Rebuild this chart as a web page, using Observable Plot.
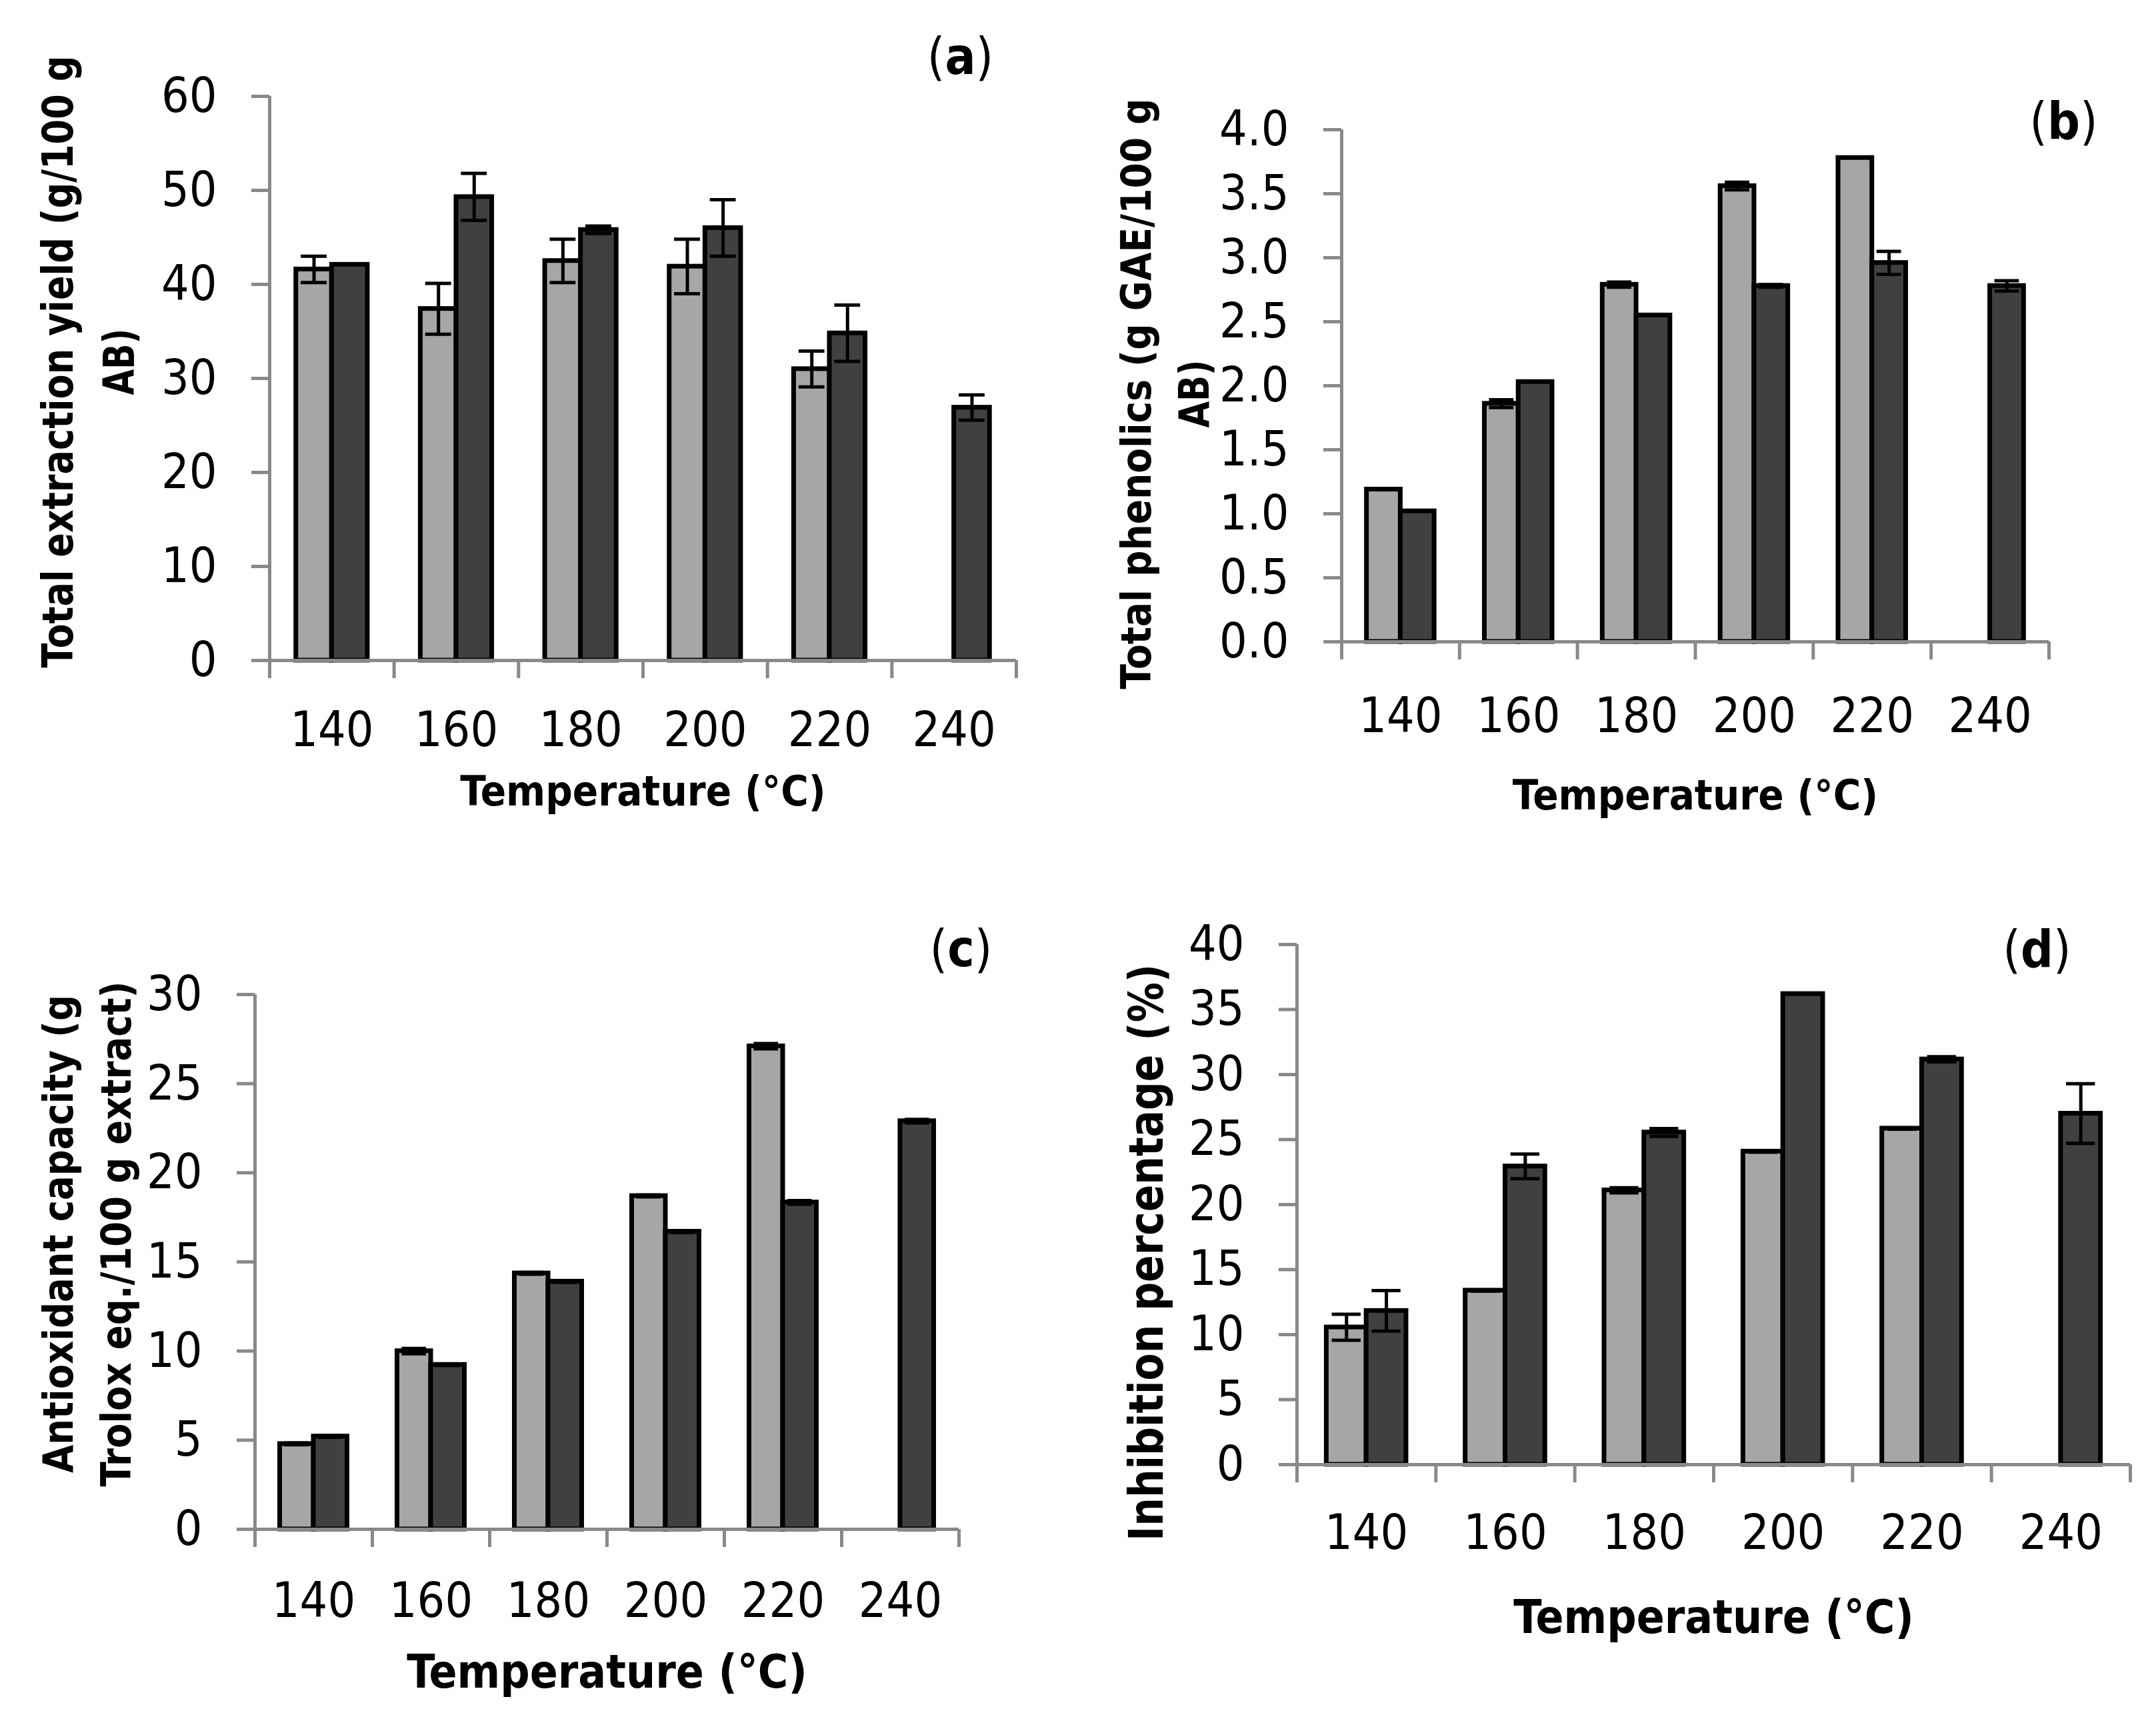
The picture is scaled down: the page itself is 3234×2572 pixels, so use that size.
<!DOCTYPE html>
<html>
<head>
<meta charset="utf-8">
<script src="https://cdn.jsdelivr.net/npm/d3@7"></script>
<script src="https://cdn.jsdelivr.net/npm/@observablehq/plot@0.6"></script>
<style>
  body { margin: 0; background: #fff; }
  #page { position: relative; width: 3234px; height: 2572px; background: #fff; }
  .panel { position: absolute; }
  .panel svg { font-stretch: condensed; }
</style>
</head>
<body>
<div id="page">
  <div class="panel" id="pa" style="left:0px;top:0px"></div>
  <div class="panel" id="pb" style="left:1617px;top:0px"></div>
  <div class="panel" id="pc" style="left:0px;top:1286px"></div>
  <div class="panel" id="pd" style="left:1617px;top:1286px"></div>
</div>
<script>
// categories
const temps = ['140', '160', '180', '200', '220', '240']

// (a) total extraction yield
const yieldLight = [41.6, 37.4, 42.5, 41.9, 31.0, null]
const yieldLightErr = [1.4, 2.7, 2.3, 2.9, 1.9, null]
const yieldDark = [42.1, 49.3, 45.8, 46.0, 34.8, 26.9]
const yieldDarkErr = [0, 2.5, 0.4, 3.0, 3.0, 1.35]

// (b) total phenolics
const phenLight = [1.19, 1.86, 2.79, 3.56, 3.78, null]
const phenLightErr = [0, 0.03, 0.02, 0.03, 0, null]
const phenDark = [1.02, 2.03, 2.55, 2.78, 2.96, 2.78]
const phenDarkErr = [0, 0, 0, 0.01, 0.09, 0.04]

// (c) antioxidant capacity
const antiLight = [4.79, 10.0, 14.36, 18.7, 27.1, null]
const antiLightErr = [0.05, 0.15, 0.05, 0.05, 0.15, null]
const antiDark = [5.21, 9.23, 13.9, 16.7, 18.34, 22.9]
const antiDarkErr = [0.05, 0.05, 0.05, 0.05, 0.1, 0.1]

// (d) inhibition percentage
const inhLight = [10.56, 13.39, 21.1, 24.08, 25.85, null]
const inhLightErr = [1.0, 0.05, 0.2, 0.05, 0.05, null]
const inhDark = [11.83, 22.94, 25.55, 36.2, 31.17, 27.0]
const inhDarkErr = [1.56, 0.95, 0.3, 0, 0.2, 2.3]

const font = '"DejaVu Sans Condensed", "DejaVu Sans", sans-serif'
const axisGray = '#898989'
const barW = 0.287
const capW = 0.104

function panel(cfg) {
    let rows = []
    temps.forEach((t, i) => {
        if (cfg.light[i] != null) rows.push({i: i, s: 0, v: cfg.light[i], e: cfg.lightErr[i]})
        rows.push({i: i, s: 1, v: cfg.dark[i], e: cfg.darkErr[i]})
    })
    let errRows = rows.filter(d => d.e > 0)
    let xc = d => d.i + 0.5 + (d.s === 0 ? -barW / 2 : barW / 2)

    // y-axis title, one text mark per line
    let yTitle = cfg.yLines.map(l => Plot.text([l.text], {
        frameAnchor: 'left',
        textAnchor: 'middle',
        lineAnchor: 'middle',
        rotate: -90,
        dx: l.dx,
        dy: cfg.yLabelDy,
        fontSize: cfg.yLabelSize,
        fontWeight: 'bold'
    }))

    let chart = Plot.plot({
        width: 1617,
        height: 1286,
        marginLeft: cfg.margins[0],
        marginRight: cfg.margins[1],
        marginTop: cfg.margins[2],
        marginBottom: cfg.margins[3],
        x: {domain: [0, 6], axis: null},
        y: {domain: cfg.domain, axis: null},
        style: {fontFamily: font, background: '#fff', overflow: 'visible'},
        marks: [
            Plot.rect(rows, {
                x1: d => d.i + 0.5 - (d.s === 0 ? barW : 0),
                x2: d => d.i + 0.5 + (d.s === 1 ? barW : 0),
                y1: 0,
                y2: 'v',
                fill: d => d.s === 0 ? '#a6a6a6' : '#404040',
                stroke: 'black',
                strokeWidth: 7
            }),
            Plot.ruleX(errRows, {x: xc, y1: d => d.v - d.e, y2: d => d.v + d.e, stroke: 'black', strokeWidth: 5}),
            Plot.ruleY(errRows, {y: d => d.v + d.e, x1: d => xc(d) - capW, x2: d => xc(d) + capW, stroke: 'black', strokeWidth: 5}),
            Plot.ruleY(errRows, {y: d => d.v - d.e, x1: d => xc(d) - capW, x2: d => xc(d) + capW, stroke: 'black', strokeWidth: 5}),
            Plot.ruleX([0], {stroke: axisGray, strokeWidth: 5}),
            Plot.ruleY([0], {stroke: axisGray, strokeWidth: 5}),
            Plot.axisY({
                ticks: cfg.ticks,
                tickFormat: cfg.format,
                tickSize: 27,
                tickPadding: 52,
                stroke: axisGray,
                strokeWidth: 5,
                fill: 'black',
                fontSize: 73,
                label: null
            }),
            Plot.axisX({
                ticks: d3.range(7),
                tickSize: 27,
                tickFormat: () => '',
                stroke: axisGray,
                strokeWidth: 5,
                label: null
            }),
            Plot.text(temps, {x: (d, i) => i + 0.5, frameAnchor: 'bottom', lineAnchor: 'middle', dy: cfg.tickDy, fontSize: 73, fill: 'black'}),
            Plot.text(['Temperature (°C)'], {frameAnchor: 'bottom', lineAnchor: 'middle', dy: cfg.xLabelDy, fontSize: cfg.xLabelSize, fontWeight: 'bold'}),
            ...yTitle,
            Plot.text([cfg.tag], {frameAnchor: 'top-right', textAnchor: 'middle', lineAnchor: 'middle', dx: cfg.tagPos[0], dy: cfg.tagPos[1], fontSize: 76, fontWeight: 'bold'})
        ]
    })

    let svg = d3.select(chart)
    // panel tag: parentheses regular, letter bold
    svg.selectAll('text').filter(function () { return this.textContent === cfg.tag }).each(function () {
        let t = d3.select(this)
        t.text(null)
        t.append('tspan').attr('font-weight', 'normal').text('(')
        t.append('tspan').text(cfg.tag.slice(1, -1))
        t.append('tspan').attr('font-weight', 'normal').text(')')
    })
    // fit the axis title lines to the length they have in the figure
    cfg.yLines.forEach(l => {
        svg.selectAll('text').filter(function () { return this.textContent === l.text })
            .attr('textLength', l.length)
            .attr('lengthAdjust', 'spacingAndGlyphs')
    })
    return chart
}

d3.select('#pa').append(() => panel({
    light: yieldLight, lightErr: yieldLightErr, dark: yieldDark, darkErr: yieldDarkErr,
    margins: [404, 93, 144, 296],
    domain: [0, 60], ticks: d3.range(0, 61, 10), format: d3.format('d'),
    tickDy: 105, xLabelDy: 197, xLabelSize: 63,
    yLines: [
        {text: 'Total extraction yield (g/100 g', dx: -316, length: 918},
        {text: 'AB)', dx: -224, length: 100}
    ],
    yLabelDy: -25, yLabelSize: 64,
    tag: '(a)', tagPos: [-84, -58]
}))

d3.select('#pb').append(() => panel({
    light: phenLight, lightErr: phenLightErr, dark: phenDark, darkErr: phenDarkErr,
    margins: [395, 161, 194, 324],
    domain: [0, 4], ticks: d3.range(0, 4.01, 0.5), format: d3.format('.1f'),
    tickDy: 112, xLabelDy: 231, xLabelSize: 63,
    yLines: [
        {text: 'Total phenolics (g GAE/100 g', dx: -307, length: 886},
        {text: 'AB)', dx: -220, length: 102}
    ],
    yLabelDy: 12, yLabelSize: 63,
    tag: '(b)', tagPos: [22, -11]
}))

d3.select('#pc').append(() => panel({
    light: antiLight, lightErr: antiLightErr, dark: antiDark, darkErr: antiDarkErr,
    margins: [382, 179, 205, 279],
    domain: [0, 30], ticks: d3.range(0, 31, 5), format: d3.format('d'),
    tickDy: 108, xLabelDy: 215, xLabelSize: 69,
    yLines: [
        {text: 'Antioxidant capacity (g', dx: -294, length: 717},
        {text: 'Trolox eq./100 g extract)', dx: -207, length: 758}
    ],
    yLabelDy: -42, yLabelSize: 63,
    tag: '(c)', tagPos: [3, -67]
}))

d3.select('#pd').append(() => panel({
    light: inhLight, lightErr: inhLightErr, dark: inhDark, darkErr: inhDarkErr,
    margins: [328, 39, 130, 376],
    domain: [0, 40], ticks: d3.range(0, 41, 5), format: d3.format('d'),
    tickDy: 103, xLabelDy: 230, xLabelSize: 69,
    yLines: [
        {text: 'Inhibition percentage (%)', dx: -225, length: 865}
    ],
    yLabelDy: 72, yLabelSize: 72,
    tag: '(d)', tagPos: [-140, 9]
}))
</script>
</body>
</html>
